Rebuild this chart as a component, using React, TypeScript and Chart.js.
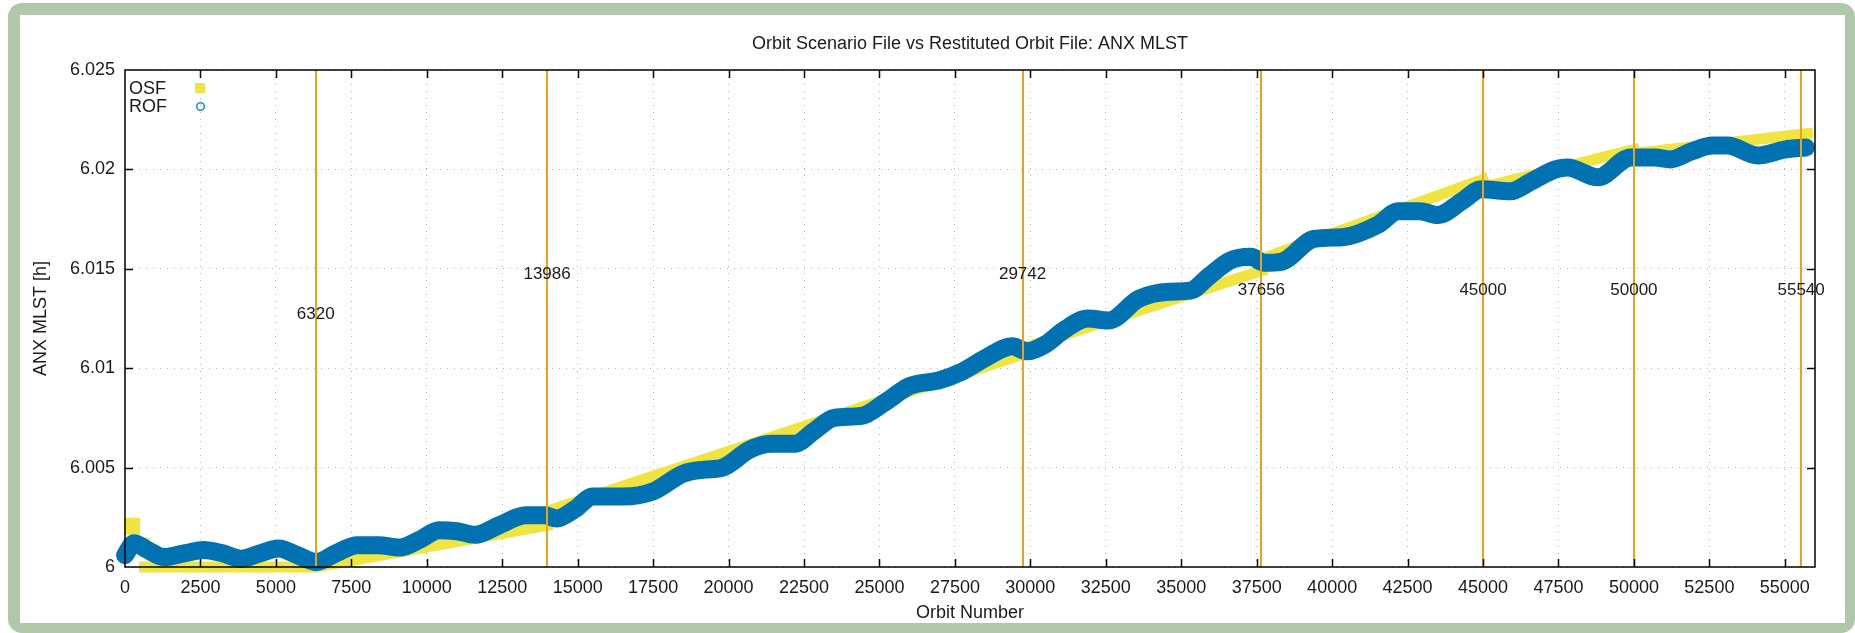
import React, { useEffect, useRef } from 'react';
import { Chart, registerables } from 'chart.js';

Chart.register(...registerables);

const chartTitle = 'Orbit Scenario File vs Restituted Orbit File: ANX MLST';
const xAxisTitle = 'Orbit Number';
const yAxisTitle = 'ANX MLST [h]';

const xTickValues = [0, 2500, 5000, 7500, 10000, 12500, 15000, 17500, 20000, 22500, 25000, 27500, 30000, 32500, 35000, 37500, 40000, 42500, 45000, 47500, 50000, 52500, 55000];
const yTickValues = [6, 6.005, 6.01, 6.015, 6.02, 6.025];
const yTickLabels = ['6', '6.005', '6.01', '6.015', '6.02', '6.025'];

const legendNames = ['OSF', 'ROF'];

const eventOrbits = [6320, 13986, 29742, 37656, 45000, 50000, 55540];
const eventLabelLevels = [6.0127, 6.0147, 6.0147, 6.0139, 6.0139, 6.0139, 6.0139];

// OSF: piecewise segments, null breaks between segments
const osfOrbits = [150, 320, 320, 150, 320, 320, 560, 650, 650, 650, 6320, 13986, 13986, 13986, 29742, 29742, 29742, 37656, 37656, 37656, 45000, 45000, 45000, 50000, 50000, 50000, 55750];
const osfValues = [6.0022, 6.0022, null, 6.0019, 6.0019, null, 6.0012, 6.0012, null, 6.0, 6.0, 6.0021, null, 6.0028, 6.0107, null, 6.011, 6.0149, null, 6.0155, 6.0195, null, 6.0191, 6.021, null, 6.0208, 6.0218];

const rofOrbits = [0, 300, 700, 1300, 2000, 2600, 3200, 3850, 4500, 5100, 5700, 6350, 7000, 7700, 8400, 9100, 9800, 10400, 11000, 11600, 12400, 13280, 13900, 14300, 14900, 15500, 16500, 17500, 18500, 19200, 19800, 20700, 21400, 22200, 22800, 23500, 24400, 25200, 26000, 27000, 27700, 28500, 29400, 29900, 30500, 31100, 31900, 32600, 33600, 34600, 35300, 35900, 36600, 37300, 37750, 38300, 39400, 40400, 41500, 42200, 42900, 43500, 44300, 44950, 45900, 46600, 47400, 47800, 48800, 49900, 50700, 51200, 51900, 52600, 53100, 54100, 55000, 55700];
const rofValues = [6.0006, 6.0012, 6.0009, 6.0005, 6.0007, 6.00085, 6.0007, 6.00042, 6.0007, 6.00093, 6.0006, 6.00025, 6.0007, 6.0011, 6.0011, 6.00098, 6.0014, 6.00185, 6.0018, 6.00162, 6.0021, 6.0026, 6.0026, 6.00244, 6.0029, 6.00354, 6.00354, 6.0038, 6.0047, 6.0049, 6.005, 6.0059, 6.0062, 6.0062, 6.0068, 6.0075, 6.0076, 6.0083, 6.0091, 6.0094, 6.0098, 6.0105, 6.0111, 6.01085, 6.0112, 6.0119, 6.0125, 6.0124, 6.0135, 6.01385, 6.0139, 6.0146, 6.0154, 6.0156, 6.0153, 6.01535, 6.0165, 6.0166, 6.0172, 6.0179, 6.0179, 6.0177, 6.0184, 6.019, 6.0189, 6.0194, 6.02, 6.0201, 6.0196, 6.0206, 6.0206, 6.0205, 6.0209, 6.0212, 6.0212, 6.0207, 6.021, 6.0211];

const FONT = "'Liberation Sans', Arial, Helvetica, sans-serif";
const OSF_COLOR = '#f0e442';
const ROF_COLOR = '#0072b2';
const EVENT_COLOR = '#eaa21e';

export default function App() {
  const canvasRef = useRef<HTMLCanvasElement>(null);

  useEffect(() => {
    const canvas = canvasRef.current;
    if (!canvas) return;

    const decor = {
      id: 'decor',
      afterDraw(chart: any) {
        const { ctx, chartArea: a, scales } = chart;
        const x = scales.x;
        const y = scales.y;
        const line = (x1: number, y1: number, x2: number, y2: number) => {
          ctx.beginPath();
          ctx.moveTo(x1, y1);
          ctx.lineTo(x2, y2);
          ctx.stroke();
        };
        ctx.save();
        // event lines
        ctx.strokeStyle = EVENT_COLOR;
        ctx.lineWidth = 2;
        eventOrbits.forEach((v) => {
          const px = Math.round(x.getPixelForValue(v));
          line(px, a.top, px, a.bottom);
        });
        // event labels
        ctx.fillStyle = '#1a1a1a';
        ctx.font = `17px ${FONT}`;
        ctx.textAlign = 'center';
        ctx.textBaseline = 'middle';
        eventOrbits.forEach((v, i) => {
          ctx.fillText(String(v), x.getPixelForValue(v), y.getPixelForValue(eventLabelLevels[i]));
        });
        // frame
        ctx.strokeStyle = '#000';
        ctx.lineWidth = 1.5;
        ctx.strokeRect(a.left, a.top, a.right - a.left, a.bottom - a.top);
        // inward ticks
        xTickValues.forEach((v) => {
          const px = Math.round(x.getPixelForValue(v)) + 0.5;
          if (px < a.left + 2) return;
          line(px, a.bottom, px, a.bottom - 8);
          line(px, a.top, px, a.top + 8);
        });
        yTickValues.forEach((v) => {
          const py = Math.round(y.getPixelForValue(v)) + 0.5;
          if (py > a.bottom - 2 || py < a.top + 2) return;
          line(a.left, py, a.left + 8, py);
          line(a.right, py, a.right - 8, py);
        });
        // title
        ctx.fillStyle = '#1a1a1a';
        ctx.font = `18px ${FONT}`;
        ctx.textAlign = 'center';
        ctx.textBaseline = 'middle';
        ctx.fillText(chartTitle, (a.left + a.right) / 2, 44);
        // x title
        ctx.fillText(xAxisTitle, (a.left + a.right) / 2, 613);
        // y title
        ctx.save();
        ctx.translate(41, (a.top + a.bottom) / 2);
        ctx.rotate(-Math.PI / 2);
        ctx.fillText(yAxisTitle, 0, 0);
        ctx.restore();
        // legend
        ctx.textAlign = 'left';
        ctx.fillText(legendNames[0], a.left + 4, a.top + 19);
        ctx.fillText(legendNames[1], a.left + 4, a.top + 37);
        ctx.fillStyle = OSF_COLOR;
        ctx.fillRect(195, a.top + 13, 10, 10);
        ctx.strokeStyle = '#2a8bd0';
        ctx.lineWidth = 1.6;
        ctx.beginPath();
        ctx.arc(200.5, a.top + 36.5, 3.8, 0, Math.PI * 2);
        ctx.stroke();
        ctx.restore();
      },
    };

    const chart = new Chart(canvas, {
      type: 'line',
      data: {
        datasets: [
          {
            label: legendNames[1],
            data: rofOrbits.map((o, i) => ({ x: o, y: rofValues[i] })),
            borderColor: ROF_COLOR,
            backgroundColor: ROF_COLOR,
            borderWidth: 18,
            pointRadius: 0,
            cubicInterpolationMode: 'monotone',
            borderCapStyle: 'round',
            borderJoinStyle: 'round',
            clip: false,
            order: 0,
          },
          {
            label: legendNames[0],
            data: osfOrbits.map((o, i) => ({ x: o, y: osfValues[i] })),
            borderColor: OSF_COLOR,
            backgroundColor: OSF_COLOR,
            borderWidth: 11,
            pointRadius: 0,
            tension: 0,
            spanGaps: false,
            borderCapStyle: 'square',
            borderJoinStyle: 'miter',
            clip: false,
            order: 1,
          },
        ],
      } as any,
      options: {
        responsive: false,
        maintainAspectRatio: false,
        animation: false,
        devicePixelRatio: 1,
        events: [],
        layout: { padding: { top: 70, left: 45, right: 40, bottom: 16 } },
        plugins: {
          legend: { display: false },
          title: { display: false },
          tooltip: { enabled: false },
        },
        scales: {
          x: {
            type: 'linear',
            min: 0,
            max: 56000,
            afterBuildTicks: (s: any) => {
              s.ticks = xTickValues.map((v) => ({ value: v }));
            },
            afterFit: (s: any) => {
              s.height = 50;
            },
            ticks: {
              autoSkip: false,
              maxRotation: 0,
              padding: 10,
              color: '#1a1a1a',
              font: { family: FONT, size: 18 },
              callback: (v: any) => String(v),
            },
            grid: { color: '#b4b4b4', lineWidth: 1, drawTicks: false },
            border: { display: false, dash: [1, 6] },
          },
          y: {
            type: 'linear',
            min: 6,
            max: 6.025,
            afterBuildTicks: (s: any) => {
              s.ticks = yTickValues.map((v) => ({ value: v }));
            },
            afterFit: (s: any) => {
              s.width = 80;
            },
            ticks: {
              autoSkip: false,
              padding: 10,
              color: '#1a1a1a',
              font: { family: FONT, size: 18 },
              callback: (_v: any, i: number) => yTickLabels[i],
            },
            grid: { color: '#b4b4b4', lineWidth: 1, drawTicks: false },
            border: { display: false, dash: [1, 6] },
          },
        },
      } as any,
      plugins: [decor],
    });

    return () => chart.destroy();
  }, []);

  return (
    <div style={{ position: 'fixed', left: 0, top: 0, width: 1855, height: 633, background: '#ffffff', overflow: 'hidden' }}>
      <div style={{ position: 'absolute', left: 8, top: 3, width: 1847, height: 630, background: '#b0c7aa', borderRadius: 14 }} />
      <div style={{ position: 'absolute', left: 20, top: 15, width: 1825, height: 608, background: '#ffffff' }} />
      <canvas ref={canvasRef} width={1855} height={633} style={{ position: 'absolute', left: 0, top: 0, width: 1855, height: 633 }} />
    </div>
  );
}
